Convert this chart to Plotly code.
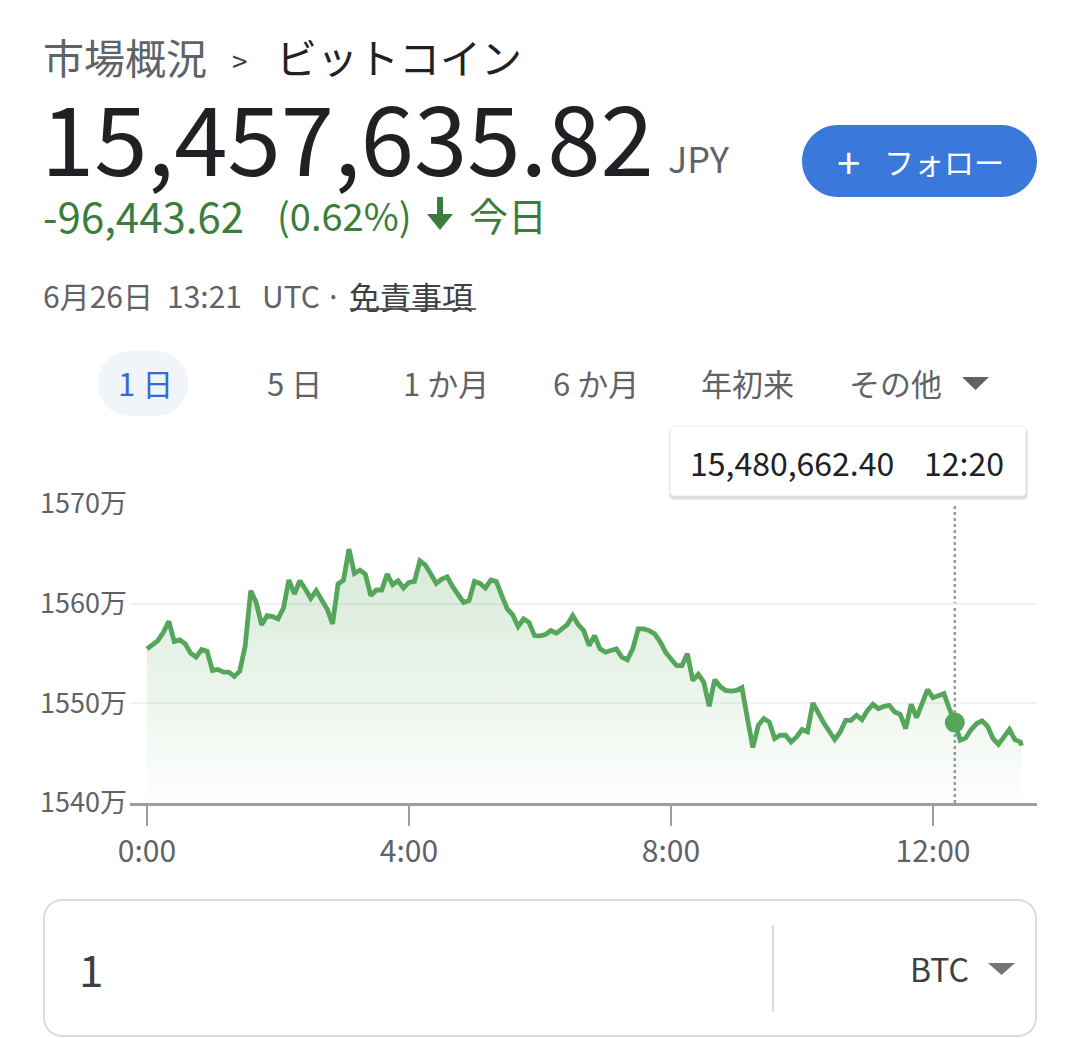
import pandas as pd
import plotly.graph_objects as go

W, H = 1080, 1038

# ---- data (prices in 万 JPY, 5-minute steps from 0:00, last tick 13:21) ----
times = list(pd.date_range("2024-06-26 00:00", "2024-06-26 13:20", freq="5min")) + [pd.Timestamp("2024-06-26 13:21")]
prices_man = [
    1555.47, 1555.87, 1556.30, 1557.13, 1558.23, 1556.20, 1556.37, 1555.97, 1555.03, 1554.63,
    1555.40, 1555.23, 1553.30, 1553.40, 1553.13, 1553.13, 1552.70, 1553.23, 1555.80, 1561.30,
    1560.13, 1557.87, 1558.80, 1558.70, 1558.47, 1559.57, 1562.37, 1560.97, 1562.30, 1561.47,
    1560.53, 1561.30, 1560.30, 1559.47, 1557.97, 1561.97, 1562.37, 1565.47, 1563.03, 1563.37,
    1562.97, 1560.80, 1561.37, 1561.37, 1562.97, 1561.90, 1562.30, 1561.57, 1562.13, 1562.23,
    1564.30, 1563.87, 1562.97, 1562.03, 1562.47, 1562.70, 1561.70, 1560.80, 1560.13, 1560.30,
    1562.23, 1562.03, 1561.57, 1562.37, 1562.23, 1560.80, 1559.47, 1558.87, 1557.70, 1558.47,
    1558.10, 1556.80, 1556.77, 1556.90, 1557.30, 1557.03, 1557.43, 1557.90, 1558.80, 1557.90,
    1557.30, 1555.80, 1556.80, 1555.47, 1555.13, 1555.30, 1555.47, 1554.63, 1554.37, 1555.47,
    1557.47, 1557.47, 1557.30, 1556.97, 1556.20, 1555.13, 1554.47, 1553.80, 1553.77, 1554.97,
    1552.30, 1552.90, 1552.13, 1549.70, 1552.37, 1551.70, 1551.30, 1551.23, 1551.30, 1551.57,
    1548.50, 1545.57, 1547.80, 1548.47, 1548.13, 1546.47, 1546.80, 1546.80, 1546.13, 1546.63,
    1547.37, 1547.13, 1550.03, 1548.97, 1548.03, 1547.20, 1546.37, 1547.13, 1548.30, 1548.30,
    1548.80, 1548.37, 1549.30, 1549.90, 1549.47, 1549.70, 1549.80, 1549.13, 1548.90, 1547.47,
    1549.90, 1548.57, 1550.13, 1551.37, 1550.57, 1550.80, 1550.97, 1549.47, 1548.07, 1546.30,
    1546.53, 1547.37, 1547.97, 1548.23, 1547.70, 1546.47, 1545.90, 1546.63, 1547.37, 1546.37,
    1546.13, 1545.76,
]
y_ticks = [1540, 1550, 1560, 1570]
y_tick_labels = ["1540万", "1550万", "1560万", "1570万"]
x_ticks = ["2024-06-26 00:00", "2024-06-26 04:00", "2024-06-26 08:00", "2024-06-26 12:00"]
x_tick_labels = ["0:00", "4:00", "8:00", "12:00"]
hover_time = "2024-06-26 12:20"
hover_price = 15480662.40
tabs = ["1 日", "5 日", "1 か月", "6 か月", "年初来", "その他"]

GREEN = "#55a65b"
FONT = "Noto Sans CJK JP, Noto Sans, sans-serif"


def px(x):
    return x / W


def py(y):
    return 1 - y / H


def rrect(x0, y0, x1, y1, r):
    # rounded rectangle path, pixel coords -> paper coords
    k = 0.5523 * r
    pts = [
        ("M", [(x0 + r, y0)]), ("L", [(x1 - r, y0)]),
        ("C", [(x1 - r + k, y0), (x1, y0 + r - k), (x1, y0 + r)]),
        ("L", [(x1, y1 - r)]),
        ("C", [(x1, y1 - r + k), (x1 - r + k, y1), (x1 - r, y1)]),
        ("L", [(x0 + r, y1)]),
        ("C", [(x0 + r - k, y1), (x0, y1 - r + k), (x0, y1 - r)]),
        ("L", [(x0, y0 + r)]),
        ("C", [(x0, y0 + r - k), (x0 + r - k, y0), (x0 + r, y0)]),
    ]
    s = ""
    for cmd, ps in pts:
        s += cmd + " ".join(f"{px(a):.5f},{py(b):.5f}" for a, b in ps)
    return s + "Z"


def poly(points):
    return "M" + "L".join(f"{px(a):.5f},{py(b):.5f}" for a, b in points) + "Z"


fig = go.Figure()

fig.add_trace(go.Scatter(
    x=times, y=prices_man, mode="lines",
    line=dict(color=GREEN, width=4.8),
    fill="tozeroy",
    fillgradient=dict(type="vertical", start=1540, stop=1566,
                      colorscale=[[0, "rgba(85,166,91,0.01)"], [1, "rgba(85,166,91,0.25)"]]),
    hoverinfo="skip",
))
fig.add_trace(go.Scatter(
    x=[hover_time], y=[hover_price / 1e4], mode="markers",
    marker=dict(color=GREEN, size=20), hoverinfo="skip",
))

shapes = []
# crosshair
shapes.append(dict(type="line", xref="x", yref="y", x0=hover_time, x1=hover_time, y0=1540, y1=1570,
                   line=dict(color="#9a9a9a", width=2.5, dash="dot"), layer="below"))
# follow button
shapes.append(dict(type="path", xref="paper", yref="paper", path=rrect(802, 125, 1037, 197, 36),
                   fillcolor="#3b78dc", line=dict(width=0)))
# down arrow
shapes.append(dict(type="path", xref="paper", yref="paper",
                   path=poly([(437, 197), (443, 197), (443, 214), (453, 214), (440, 230),
                              (427, 214), (437, 214)]),
                   fillcolor="#3a7d3c", line=dict(width=0)))
# underline of disclaimer
shapes.append(dict(type="line", xref="paper", yref="paper", x0=px(350), x1=px(476), y0=py(309), y1=py(309),
                   line=dict(color="#5f6368", width=2)))
# active tab pill
shapes.append(dict(type="path", xref="paper", yref="paper", path=rrect(98, 351, 188, 416, 32),
                   fillcolor="#f1f4f9", line=dict(width=0), layer="below"))
# tab dropdown triangle
shapes.append(dict(type="path", xref="paper", yref="paper", path=poly([(962, 377), (989, 377), (975.5, 390)]),
                   fillcolor="#5f6368", line=dict(width=0)))
# tooltip shadow + box
shapes.append(dict(type="path", xref="paper", yref="paper", path=rrect(669, 428, 1028, 500, 5),
                   fillcolor="rgba(0,0,0,0.10)", line=dict(width=0)))
shapes.append(dict(type="path", xref="paper", yref="paper", path=rrect(670, 427, 1027, 498, 5),
                   fillcolor="rgba(0,0,0,0.06)", line=dict(width=0)))
shapes.append(dict(type="path", xref="paper", yref="paper", path=rrect(670, 426, 1026, 496, 4),
                   fillcolor="white", line=dict(color="#ececec", width=1)))
# converter box
shapes.append(dict(type="path", xref="paper", yref="paper", path=rrect(44, 900, 1036, 1036, 18),
                   fillcolor="white", line=dict(color="#dadce0", width=2)))
shapes.append(dict(type="line", xref="paper", yref="paper", x0=px(773), x1=px(773), y0=py(925), y1=py(1012),
                   line=dict(color="#dadce0", width=2)))
shapes.append(dict(type="path", xref="paper", yref="paper", path=poly([(988, 963), (1015, 963), (1001.5, 975)]),
                   fillcolor="#757575", line=dict(width=0)))

annotations = []


def text(x, y, s, size, color, anchor="left"):
    annotations.append(dict(x=px(x), y=py(y), xref="paper", yref="paper", text=s, showarrow=False,
                            xanchor=anchor, yanchor="middle", borderpad=0,
                            font=dict(size=size, color=color, family=FONT)))


text(42, 56, "市場概況", 41, "#5f6368")
text(231, 60, ">", 28, "#3c4043")
text(275, 56, "ビットコイン", 41, "#202124")
text(40, 134, "15,457,635.82", 96, "#202124")
text(667, 157, "JPY", 36, "#5f6368")
text(861, 161, "+", 42, "white", "right")
text(944, 161, "フォロー", 30, "white", "center")
text(42, 214, "-96,443.62", 42, "#3a7d3c")
text(413, 214, "(0.62%)", 38, "#3a7d3c", "right")
text(468, 214, "今日", 39, "#3a7d3c")
text(42, 295, "6月26日", 30, "#5f6368")
text(166, 295, "13:21", 30, "#5f6368")
text(261, 295, "UTC", 30, "#5f6368")
text(324, 295, "·", 30, "#5f6368")
text(348, 295, "免責事項", 31, "#3c4043")

tab_x = [145, 294, 446, 596, 747, 895]
for i, (tx, lab) in enumerate(zip(tab_x, tabs)):
    text(tx, 383, lab, 31, "#3668d6" if i == 0 else "#5f6368", "center")

text(895, 462, "15,480,662.40", 32, "#202124", "right")
text(1005, 462, "12:20", 32, "#202124", "right")

text(78, 968, "1", 44, "#3c4043")
text(970, 968, "BTC", 32, "#3c4043", "right")

fig.update_layout(
    width=W, height=H,
    margin=dict(l=0, r=0, t=0, b=0, autoexpand=False),
    paper_bgcolor="white", plot_bgcolor="white",
    showlegend=False,
    shapes=shapes, annotations=annotations,
    xaxis=dict(
        domain=[px(130), px(1037)], type="date",
        range=["2024-06-25 23:44:26", "2024-06-26 13:35:17"],
        tickvals=x_ticks, ticktext=x_tick_labels,
        ticks="outside", ticklen=20, tickwidth=2, tickcolor="#9e9e9e",
        showline=True, linecolor="#9e9e9e", linewidth=3,
        showgrid=False, zeroline=False,
        tickfont=dict(size=30, color="#5f6368", family=FONT),
        fixedrange=True,
    ),
    yaxis=dict(
        domain=[py(803), py(504)], range=[1540, 1570],
        tickvals=y_ticks, ticktext=y_tick_labels,
        showgrid=True, gridcolor="#f1f1f1", gridwidth=2,
        zeroline=False, showline=False, ticks="",
        ticklabelstandoff=2,
        tickfont=dict(size=27, color="#5f6368", family=FONT),
        fixedrange=True,
    ),
)

fig.write_html(
    "out.html",
    config={"displayModeBar": False},
    post_script="document.body.style.margin='0';document.body.style.overflow='hidden';"
                "document.documentElement.style.overflow='hidden';",
)
